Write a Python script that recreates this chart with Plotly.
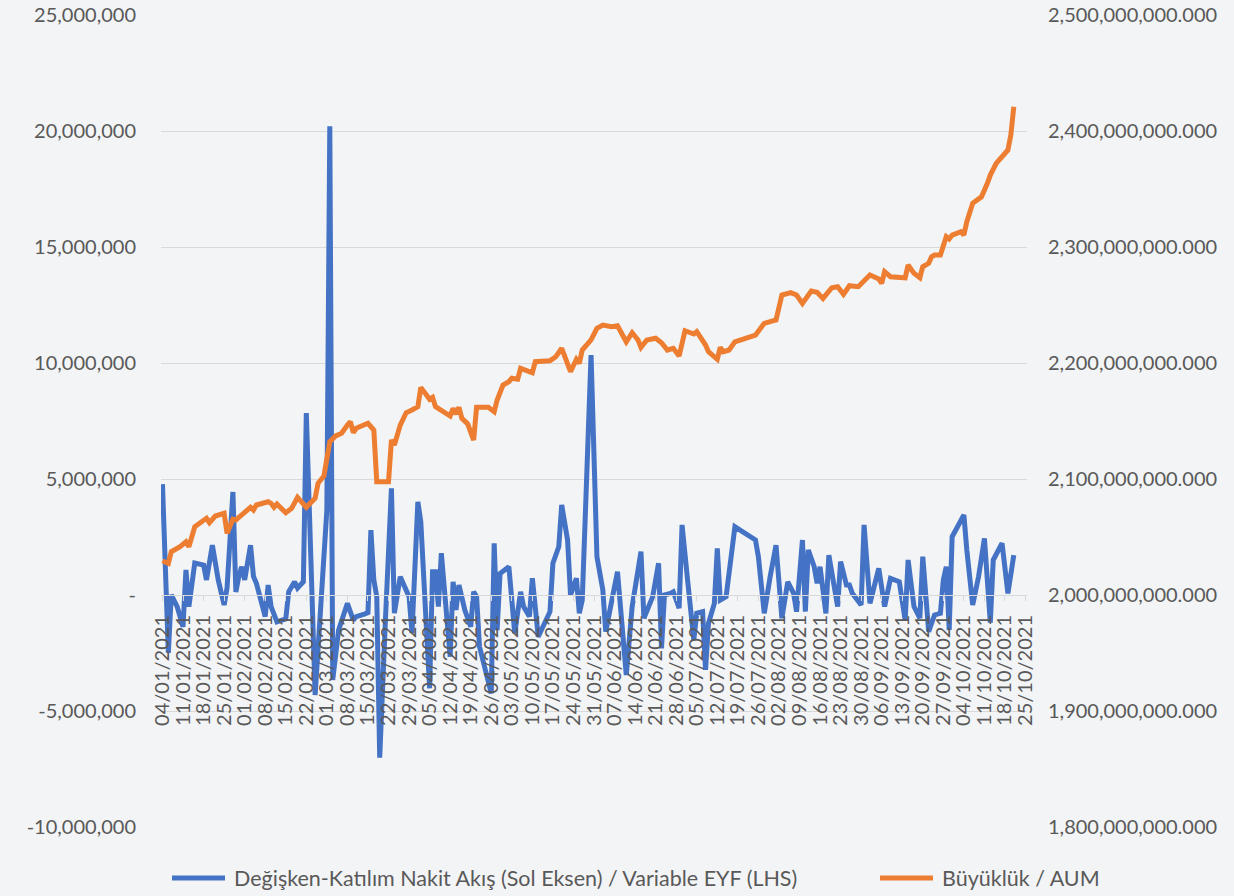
import plotly.graph_objects as go

# ---- Data ----
flow_dates = [
    "2021-01-04", "2021-01-06", "2021-01-07", "2021-01-09", "2021-01-11", "2021-01-12", "2021-01-13", "2021-01-15",
    "2021-01-18", "2021-01-19", "2021-01-21", "2021-01-23", "2021-01-25", "2021-01-26", "2021-01-28", "2021-01-29",
    "2021-01-30", "2021-01-31",
    "2021-02-01", "2021-02-03", "2021-02-04", "2021-02-05", "2021-02-08", "2021-02-09", "2021-02-10", "2021-02-12",
    "2021-02-15", "2021-02-16", "2021-02-18", "2021-02-19", "2021-02-21", "2021-02-22", "2021-02-25",
    "2021-03-01", "2021-03-02", "2021-03-03", "2021-03-05", "2021-03-08", "2021-03-10", "2021-03-11", "2021-03-14",
    "2021-03-15", "2021-03-16", "2021-03-17", "2021-03-18", "2021-03-19", "2021-03-21", "2021-03-23", "2021-03-24",
    "2021-03-26", "2021-03-29", "2021-03-30",
    "2021-04-01", "2021-04-02", "2021-04-05", "2021-04-06", "2021-04-07", "2021-04-08", "2021-04-09", "2021-04-12",
    "2021-04-13", "2021-04-14", "2021-04-15", "2021-04-17", "2021-04-19", "2021-04-20", "2021-04-21", "2021-04-22",
    "2021-04-26", "2021-04-27", "2021-04-28", "2021-04-29",
    "2021-05-02", "2021-05-04", "2021-05-06", "2021-05-07", "2021-05-09", "2021-05-10", "2021-05-12", "2021-05-16",
    "2021-05-17", "2021-05-19", "2021-05-20", "2021-05-22", "2021-05-23", "2021-05-25", "2021-05-26", "2021-05-27",
    "2021-05-30",
    "2021-06-01", "2021-06-03", "2021-06-04", "2021-06-05", "2021-06-08", "2021-06-11", "2021-06-13", "2021-06-16",
    "2021-06-17", "2021-06-20", "2021-06-22", "2021-06-23", "2021-06-24", "2021-06-26", "2021-06-27", "2021-06-29",
    "2021-06-30",
    "2021-07-02", "2021-07-04", "2021-07-05", "2021-07-07", "2021-07-08", "2021-07-09", "2021-07-11", "2021-07-12",
    "2021-07-13", "2021-07-15", "2021-07-18", "2021-07-25", "2021-07-26", "2021-07-28", "2021-07-30",
    "2021-08-01", "2021-08-03", "2021-08-05", "2021-08-07", "2021-08-08", "2021-08-10", "2021-08-11", "2021-08-12",
    "2021-08-14", "2021-08-15", "2021-08-16", "2021-08-18", "2021-08-19", "2021-08-22", "2021-08-23", "2021-08-25",
    "2021-08-26", "2021-08-27", "2021-08-30", "2021-08-31",
    "2021-09-02", "2021-09-05", "2021-09-07", "2021-09-09", "2021-09-12", "2021-09-14", "2021-09-15", "2021-09-17",
    "2021-09-19", "2021-09-20", "2021-09-22", "2021-09-24", "2021-09-26", "2021-09-27", "2021-09-28", "2021-09-29",
    "2021-09-30",
    "2021-10-04", "2021-10-05", "2021-10-07", "2021-10-09", "2021-10-11", "2021-10-13", "2021-10-14", "2021-10-17",
    "2021-10-19", "2021-10-21",
]
# Variable participation fund net flow, in millions
flow_m = [
    4.78, -2.49, 0.0, -0.5, -1.37, 1.08, -0.5, 1.38, 1.29, 0.65, 2.15, 0.65, -0.43, 0.3, 4.44, 0.13, 0.8, 1.22,
    0.65, 2.15, 0.8, 0.5, -0.93, 0.43, -0.5, -1.16, -1.03, 0.14, 0.57, 0.3, 0.57, 7.84, -4.31,
    3.66, 20.2, -3.66, -1.51, -0.36, -1.08, -0.93, -0.82, -0.76, 2.8, 0.65, -0.07, -7.01, -0.93, 4.6, -0.78,
    0.79, -0.07, -1.64,
    4.02, 3.16, -4.02, 1.0, 1.0, -0.5, 1.8, -2.66, 0.57, -0.65, 0.43, -0.65, -1.37, 0.14, -0.07, -2.23,
    -4.24, 2.23, -1.51, 0.93,
    1.22, -1.65, 0.14, -0.5, -0.93, 0.72, -1.8, -0.72, 1.37, 2.08, 3.88, 2.37, 0.0, 0.72, -0.79, -0.22, 10.34,
    1.65, 0.22, -1.58, -0.93, 1.0, -3.45, -0.5, 1.87, -1.0, -0.07, 1.37, -2.3, 0.0, 0.07, 0.14, -0.57, 3.02,
    0.5, -1.94, -0.79, -0.72, -3.23, -1.22, -0.36, 2.01, -0.22, -0.07, 2.94, 2.37, 1.65, -0.79, 0.79,
    2.15, -1.0, 0.57, 0.07, -0.72, 2.37, -0.72, 1.94, 1.22, 0.5, 1.22, -0.79, 1.72, -0.5, 1.44, 0.43,
    0.43, 0.07, -0.43, 3.02,
    -0.36, 1.15, -0.5, 0.72, 0.57, -1.08, 1.51, -0.5, -1.0, 1.65, -1.58, -0.86, -0.79, 0.65, 1.22, -1.51, 2.51,
    3.45, 1.94, -0.43, 0.79, 2.44, -1.19, 1.51, 2.23, 0.07, 1.72,
]

aum_dates = [
    "2021-01-04", "2021-01-06", "2021-01-07", "2021-01-10", "2021-01-12", "2021-01-13", "2021-01-15", "2021-01-17",
    "2021-01-19", "2021-01-20", "2021-01-22", "2021-01-25", "2021-01-26", "2021-01-28", "2021-01-29", "2021-01-31",
    "2021-02-03", "2021-02-04", "2021-02-05", "2021-02-09", "2021-02-10", "2021-02-11", "2021-02-12", "2021-02-15",
    "2021-02-17", "2021-02-19", "2021-02-22", "2021-02-25", "2021-02-26", "2021-02-28",
    "2021-03-02", "2021-03-04", "2021-03-06", "2021-03-08", "2021-03-09", "2021-03-10", "2021-03-11", "2021-03-15",
    "2021-03-17", "2021-03-18", "2021-03-22", "2021-03-23", "2021-03-24", "2021-03-26", "2021-03-28", "2021-03-30",
    "2021-04-01", "2021-04-02", "2021-04-05", "2021-04-06", "2021-04-07", "2021-04-12", "2021-04-13", "2021-04-14",
    "2021-04-15", "2021-04-16", "2021-04-18", "2021-04-20", "2021-04-21", "2021-04-25", "2021-04-27", "2021-04-28",
    "2021-04-30",
    "2021-05-02", "2021-05-03", "2021-05-05", "2021-05-06", "2021-05-10", "2021-05-11", "2021-05-16", "2021-05-18",
    "2021-05-20", "2021-05-22", "2021-05-23", "2021-05-25", "2021-05-26", "2021-05-27", "2021-05-30",
    "2021-06-01", "2021-06-03", "2021-06-06", "2021-06-08", "2021-06-11", "2021-06-13", "2021-06-15", "2021-06-16",
    "2021-06-18", "2021-06-21", "2021-06-23", "2021-06-25", "2021-06-27", "2021-06-29",
    "2021-07-01", "2021-07-04", "2021-07-05", "2021-07-08", "2021-07-09", "2021-07-12", "2021-07-13", "2021-07-14",
    "2021-07-16", "2021-07-18", "2021-07-25", "2021-07-28", "2021-07-30",
    "2021-08-01", "2021-08-03", "2021-08-06", "2021-08-08", "2021-08-10", "2021-08-13", "2021-08-15", "2021-08-17",
    "2021-08-20", "2021-08-22", "2021-08-24", "2021-08-26", "2021-08-29",
    "2021-09-02", "2021-09-05", "2021-09-06", "2021-09-07", "2021-09-09", "2021-09-11", "2021-09-14", "2021-09-15",
    "2021-09-17", "2021-09-19", "2021-09-20", "2021-09-22", "2021-09-23", "2021-09-24", "2021-09-26", "2021-09-28",
    "2021-09-29", "2021-09-30",
    "2021-10-03", "2021-10-04", "2021-10-05", "2021-10-07", "2021-10-10", "2021-10-12", "2021-10-13", "2021-10-15",
    "2021-10-17", "2021-10-19", "2021-10-20", "2021-10-21",
]
# Assets under management, in millions
aum_m = [
    2029.3, 2027.3, 2037.3, 2041.6, 2045.9, 2041.6, 2058.9, 2063.2, 2066.1, 2062.3, 2068.1, 2070.4, 2053.2, 2065.3,
    2064.7, 2069.0,
    2075.6, 2073.3, 2077.6, 2080.4, 2079.0, 2075.6, 2078.4, 2070.9, 2074.7, 2084.2, 2075.6, 2083.4, 2096.3, 2102.6,
    2132.1, 2137.1, 2139.4, 2146.5, 2149.4, 2139.9, 2143.7, 2148.0, 2142.2, 2097.7, 2097.7, 2133.6, 2129.3, 2146.5,
    2157.1, 2159.5,
    2162.3, 2179.0, 2168.7, 2170.4, 2162.3, 2154.3, 2160.9, 2156.0, 2161.8, 2152.3, 2147.4, 2133.6, 2161.8, 2161.8,
    2158.0, 2168.1, 2181.0,
    2183.9, 2186.8, 2186.0, 2195.4, 2191.6, 2201.1, 2202.0, 2205.4, 2212.7, 2199.7, 2192.5, 2203.2, 2199.7, 2211.2,
    2220.0,
    2229.9, 2232.7, 2231.3, 2232.1, 2218.3, 2226.1, 2219.8, 2213.5, 2219.8, 2221.3, 2217.5, 2211.2, 2212.7, 2206.0,
    2227.8, 2225.0, 2227.0, 2215.5, 2209.7, 2203.2, 2213.5, 2209.7, 2211.2, 2218.3, 2224.1, 2234.2, 2235.6,
    2237.1, 2258.6, 2260.6, 2258.6, 2251.4, 2262.0, 2260.9, 2255.7, 2264.9, 2265.8, 2259.2, 2266.6, 2265.8,
    2275.8, 2272.4, 2268.7, 2278.7, 2274.4, 2274.4, 2273.5, 2284.5, 2277.3, 2273.5, 2283.0, 2285.9, 2291.6, 2293.1,
    2293.1, 2308.9, 2306.9, 2310.3,
    2313.2, 2310.3, 2321.8, 2337.7, 2343.3, 2354.9, 2362.0, 2372.1, 2377.8, 2383.6, 2396.6, 2421.0,
]

flow_name = "Değişken-Katılım Nakit Akış (Sol Eksen) / Variable EYF (LHS)"
aum_name = "Büyüklük / AUM"

left_tick_values = [-10e6, -5e6, 0, 5e6, 10e6, 15e6, 20e6, 25e6]
left_tick_labels = [f"{v:,.0f}" if v != 0 else "-" for v in left_tick_values]

# ---- Styling / layout constants ----
W, H = 1234, 896
ML, MR, MT, MB = 161, 207, 15, 69
PW, PH = W - ML - MR, H - MT - MB
BLUE, ORANGE = "#4472C4", "#ED7D31"
grey = "#595959"
grid = "#D9D9D9"
bg = "#F3F4F6"


def px_x(px):
    return (px - ML) / PW


def px_y(py):
    return (H - MB - py) / PH


# ---- Figure ----
fig = go.Figure()
fig.add_trace(go.Scatter(
    x=flow_dates, y=[v * 1e6 for v in flow_m], name=flow_name, mode="lines",
    line=dict(color=BLUE, width=5), yaxis="y",
))
fig.add_trace(go.Scatter(
    x=aum_dates, y=[v * 1e6 for v in aum_m], name=aum_name, mode="lines",
    line=dict(color=ORANGE, width=5), yaxis="y2",
))

# Legend drawn as line samples + text (Excel-style long line keys)
legend_y = 878
legend_items = [(flow_name, BLUE, 172, 225, 232), (aum_name, ORANGE, 880, 933, 940)]
shapes, annotations = [], []
for name, color, x0, x1, xt in legend_items:
    shapes.append(dict(type="line", xref="paper", yref="paper",
                       x0=px_x(x0), x1=px_x(x1), y0=px_y(legend_y), y1=px_y(legend_y),
                       line=dict(color=color, width=5)))
    annotations.append(dict(text=name, xref="paper", yref="paper", x=px_x(xt), y=px_y(legend_y),
                            xanchor="left", yanchor="middle", showarrow=False,
                            font=dict(size=21.5, color=grey)))

fig.update_layout(
    width=W, height=H,
    margin=dict(l=ML, r=MR, t=MT, b=MB),
    paper_bgcolor=bg, plot_bgcolor=bg,
    font=dict(family="Lato, 'Open Sans', sans-serif", size=20, color=grey),
    showlegend=False,
    hovermode=False,
    shapes=shapes,
    annotations=annotations,
    xaxis=dict(
        type="date",
        range=["2021-01-03 12:00", "2021-10-25 12:00"],
        tick0="2021-01-04", dtick=7 * 86400000,
        tickformat="%d/%m/%Y", tickangle=-90,
        anchor="free", position=10 / 35,
        showline=True, linecolor=grid, linewidth=1,
        ticks="outside", ticklen=5, tickcolor=grid,
        showgrid=False, zeroline=False,
        ticklabelstandoff=6,
        automargin=False,
        tickfont=dict(size=20, color=grey),
    ),
    yaxis=dict(
        range=[-10e6, 25e6],
        tickmode="array", tickvals=left_tick_values, ticktext=left_tick_labels,
        showgrid=True, gridcolor=grid, gridwidth=1,
        zeroline=False, showline=False, ticks="",
        ticklabelstandoff=24,
        automargin=False,
        tickfont=dict(size=20, color=grey),
    ),
    yaxis2=dict(
        range=[1.8e9, 2.5e9], tick0=1.8e9, dtick=1e8,
        tickformat=",.3f",
        overlaying="y", side="right",
        showgrid=False, zeroline=False, showline=False, ticks="",
        ticklabelstandoff=20,
        automargin=False,
        tickfont=dict(size=20, color=grey),
    ),
)

fig.write_html(
    "out.html",
    config={"displayModeBar": False, "staticPlot": True},
    post_script="document.body.style.margin='0';document.body.style.overflow='hidden';",
)
